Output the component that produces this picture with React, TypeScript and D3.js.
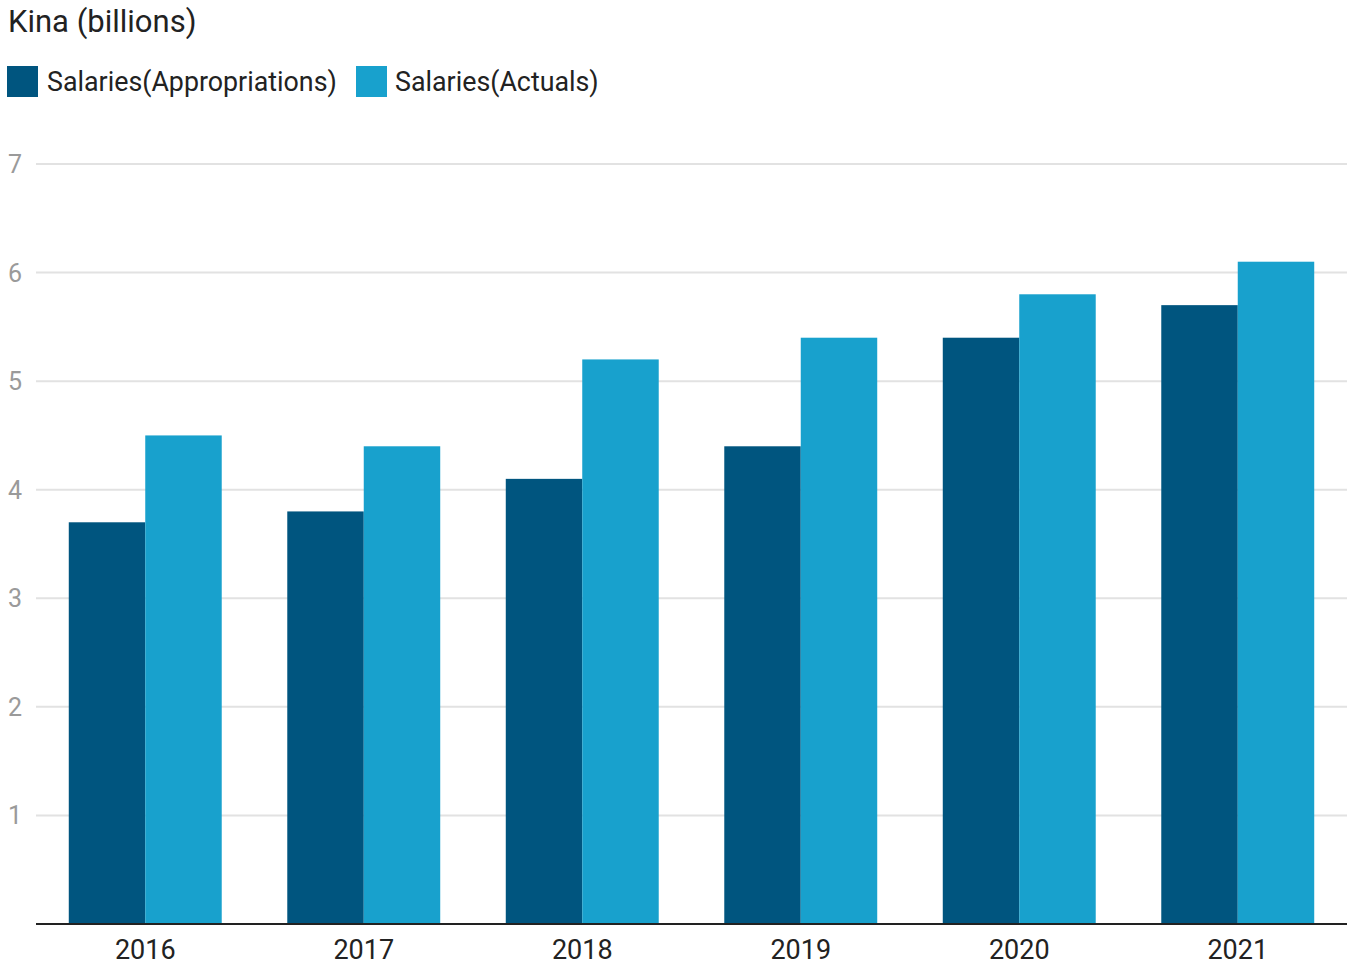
import React from "react";
import * as d3 from "d3";

const years = ["2016", "2017", "2018", "2019", "2020", "2021"];
const appropriations = [3.7, 3.8, 4.1, 4.4, 5.4, 5.7];
const actuals = [4.5, 4.4, 5.2, 5.4, 5.8, 6.1];
const seriesNames = ["Salaries(Appropriations)", "Salaries(Actuals)"];
const colors = ["#00557f", "#18a1cd"];
const yTicks = [1, 2, 3, 4, 5, 6, 7];

export default function App() {
  const W = 1352, H = 965;
  const left = 36, right = 1347, top = 164, bottom = 924;
  const x = d3.scaleBand<string>().domain(years).range([left, right]).paddingInner(0.3).paddingOuter(0.15);
  const y = d3.scaleLinear().domain([0, 7]).range([bottom, top]);
  const bw = x.bandwidth() / 2;
  const font = "Roboto, 'Noto Sans', sans-serif";
  return (
    <svg width={W} height={H} style={{ position: "absolute", left: 0, top: 0, background: "#fff" }} fontFamily={font}>
      <text x={8} y={32} fontSize={31} fill="#222">Kina (billions)</text>
      <rect x={7} y={66} width={31} height={31} fill={colors[0]} />
      <text x={47} y={91} fontSize={26.8} fill="#222">{seriesNames[0]}</text>
      <rect x={356} y={66} width={31} height={31} fill={colors[1]} />
      <text x={395} y={91} fontSize={26.8} fill="#222">{seriesNames[1]}</text>
      {yTicks.map((t) => (
        <g key={t}>
          <line x1={left} x2={right} y1={y(t)} y2={y(t)} stroke="#e2e2e2" strokeWidth={2} />
          <text x={8} y={y(t) + 9} fontSize={25} fill="#9a9a9a">{t}</text>
        </g>
      ))}
      {years.map((yr, i) => (
        <g key={yr}>
          <rect x={x(yr)!} y={y(appropriations[i])} width={bw} height={y(0) - y(appropriations[i])} fill={colors[0]} />
          <rect x={x(yr)! + bw} y={y(actuals[i])} width={bw} height={y(0) - y(actuals[i])} fill={colors[1]} />
          <text x={x(yr)! + bw} y={959} fontSize={27} fill="#222" textAnchor="middle">{yr}</text>
        </g>
      ))}
      <line x1={left} x2={right} y1={bottom} y2={bottom} stroke="#222" strokeWidth={2} />
    </svg>
  );
}
